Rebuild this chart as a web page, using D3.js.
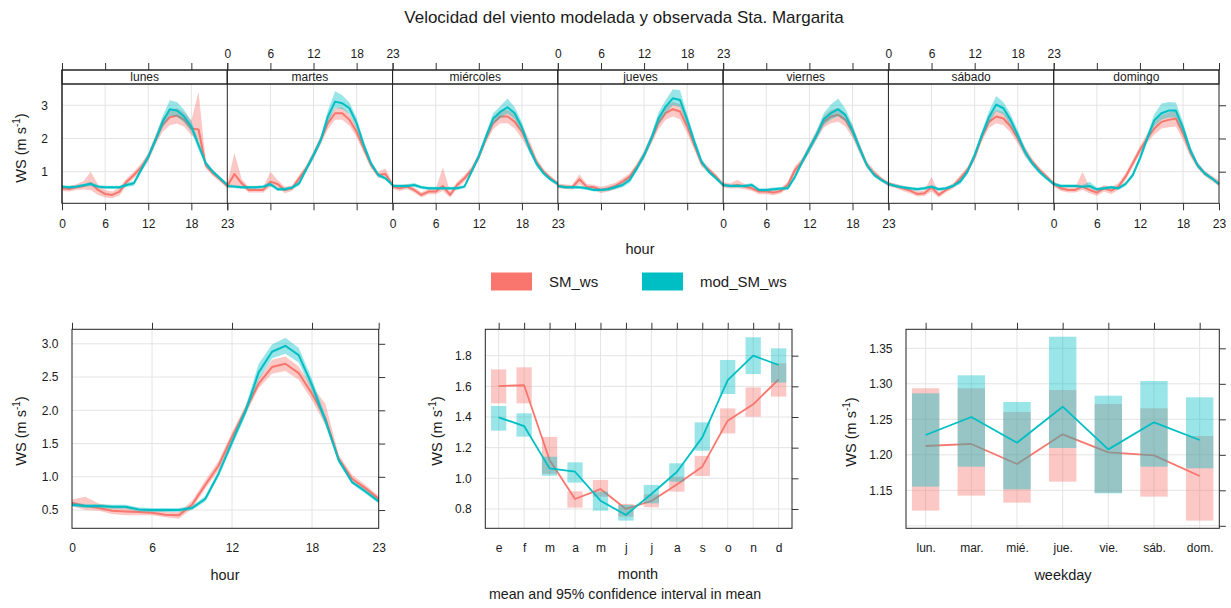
<!DOCTYPE html>
<html>
<head>
<meta charset="utf-8">
<script src="https://cdn.jsdelivr.net/npm/d3@7"></script>
<style>
  body { margin: 0; background: #fff; }
  svg text { font-family: "Liberation Sans", Arial, Helvetica, sans-serif; fill: #1a1a1a; }
</style>
</head>
<body>
<svg id="chart" width="1231" height="608"></svg>
<script>
// ---------- categories ----------
const hours = [0,1,2,3,4,5,6,7,8,9,10,11,12,13,14,15,16,17,18,19,20,21,22,23];
const hourTicks = [0, 6, 12, 18, 23];
const dayNames = ["lunes", "martes", "miércoles", "jueves", "viernes", "sábado", "domingo"];
const monthLabels = ["e", "f", "m", "a", "m", "j", "j", "a", "s", "o", "n", "d"];
const weekdayLabels = ["lun.", "mar.", "mié.", "jue.", "vie.", "sáb.", "dom."];
const seriesNames = ["SM_ws", "mod_SM_ws"];
const seriesColours = ["#F8766D", "#00BFC4"];

// ---------- hour x weekday (rows = lunes .. domingo) ----------
const obsDayHour = [
  [0.50,0.48,0.53,0.57,0.65,0.45,0.33,0.30,0.40,0.70,0.90,1.13,1.43,1.95,2.41,2.64,2.69,2.56,2.30,2.27,1.20,0.95,0.77,0.57],
  [0.57,0.93,0.65,0.45,0.45,0.45,0.70,0.63,0.45,0.50,0.80,1.10,1.50,1.95,2.46,2.76,2.76,2.56,2.20,1.70,1.20,0.90,0.93,0.60],
  [0.55,0.50,0.55,0.45,0.30,0.40,0.40,0.57,0.30,0.60,0.80,1.05,1.45,2.00,2.46,2.66,2.66,2.50,2.20,1.78,1.30,1.00,0.80,0.63],
  [0.57,0.55,0.53,0.77,0.55,0.53,0.45,0.50,0.57,0.70,0.85,1.15,1.50,1.97,2.46,2.76,2.88,2.81,2.36,1.80,1.25,1.05,0.85,0.60],
  [0.60,0.57,0.60,0.55,0.50,0.40,0.40,0.37,0.42,0.60,1.05,1.30,1.70,2.10,2.50,2.66,2.71,2.56,2.20,1.70,1.20,0.95,0.77,0.63],
  [0.63,0.57,0.50,0.43,0.33,0.35,0.53,0.30,0.45,0.57,0.80,1.05,1.45,2.05,2.50,2.66,2.60,2.36,2.00,1.60,1.30,1.05,0.85,0.63],
  [0.63,0.50,0.45,0.45,0.55,0.45,0.37,0.50,0.43,0.55,0.85,1.25,1.65,2.00,2.30,2.50,2.56,2.60,2.15,1.60,1.20,0.95,0.80,0.63]
];
const obsDayHourLo = [
  [0.42,0.40,0.45,0.46,0.45,0.30,0.22,0.20,0.28,0.60,0.80,1.02,1.30,1.80,2.20,2.40,2.45,2.35,2.10,1.95,1.10,0.87,0.70,0.50],
  [0.50,0.55,0.55,0.37,0.37,0.37,0.55,0.52,0.35,0.42,0.70,1.00,1.38,1.82,2.28,2.56,2.56,2.38,2.04,1.56,1.10,0.82,0.82,0.53],
  [0.48,0.42,0.47,0.37,0.22,0.32,0.32,0.42,0.22,0.50,0.70,0.95,1.33,1.86,2.28,2.46,2.46,2.30,2.00,1.60,1.20,0.92,0.72,0.56],
  [0.50,0.48,0.46,0.62,0.47,0.45,0.35,0.40,0.47,0.60,0.75,1.04,1.38,1.83,2.28,2.56,2.66,2.58,2.15,1.65,1.15,0.96,0.77,0.53],
  [0.52,0.49,0.50,0.47,0.42,0.32,0.32,0.29,0.34,0.50,0.93,1.19,1.58,1.96,2.32,2.46,2.50,2.36,2.02,1.55,1.10,0.87,0.70,0.56],
  [0.56,0.50,0.42,0.35,0.25,0.27,0.40,0.22,0.37,0.49,0.70,0.95,1.33,1.91,2.32,2.46,2.40,2.18,1.84,1.46,1.20,0.97,0.78,0.56],
  [0.55,0.42,0.37,0.37,0.45,0.35,0.27,0.40,0.33,0.45,0.75,1.14,1.53,1.86,2.12,2.30,2.34,2.36,1.95,1.45,1.10,0.87,0.72,0.56]
];
const obsDayHourHi = [
  [0.58,0.56,0.62,0.72,1.00,0.62,0.45,0.40,0.52,0.80,1.00,1.25,1.56,2.10,2.62,2.85,2.92,2.78,2.55,3.40,1.32,1.04,0.85,0.65],
  [0.64,1.57,0.78,0.53,0.53,0.53,1.00,0.75,0.55,0.58,0.90,1.20,1.62,2.08,2.62,2.92,2.94,2.74,2.36,1.84,1.30,0.98,1.10,0.67],
  [0.62,0.58,0.63,0.53,0.38,0.48,0.48,1.13,0.40,0.70,0.90,1.15,1.57,2.14,2.64,2.86,2.86,2.72,2.40,1.98,1.42,1.08,0.88,0.70],
  [0.64,0.62,0.60,0.92,0.63,0.61,0.55,0.60,0.67,0.80,0.95,1.26,1.62,2.11,2.64,2.96,3.10,3.04,2.57,1.95,1.35,1.14,0.93,0.67],
  [0.68,0.65,0.75,0.63,0.58,0.48,0.48,0.45,0.50,0.70,1.17,1.41,1.82,2.24,2.68,2.86,2.92,2.76,2.38,1.85,1.32,1.05,0.85,0.70],
  [0.70,0.64,0.58,0.51,0.41,0.43,0.85,0.38,0.53,0.65,0.90,1.15,1.57,2.19,2.68,2.86,2.80,2.54,2.16,1.74,1.40,1.13,0.92,0.70],
  [0.70,0.58,0.53,0.53,1.00,0.55,0.47,0.60,0.55,0.65,0.95,1.36,1.77,2.14,2.48,2.70,2.78,2.84,2.35,1.75,1.30,1.03,0.88,0.75]
];
const modDayHour = [
  [0.55,0.53,0.55,0.59,0.63,0.55,0.53,0.53,0.53,0.60,0.65,1.05,1.45,1.95,2.50,2.88,2.84,2.66,2.36,1.80,1.25,1.00,0.80,0.60],
  [0.57,0.55,0.53,0.53,0.53,0.55,0.62,0.47,0.47,0.52,0.65,1.08,1.50,1.95,2.66,3.11,3.06,2.91,2.46,1.80,1.25,0.90,0.80,0.60],
  [0.57,0.57,0.57,0.60,0.53,0.50,0.50,0.50,0.50,0.50,0.55,1.00,1.47,2.05,2.60,2.80,2.94,2.76,2.33,1.72,1.25,0.95,0.76,0.63],
  [0.57,0.53,0.53,0.53,0.50,0.45,0.45,0.47,0.53,0.60,0.75,1.10,1.50,2.00,2.60,2.96,3.21,3.16,2.56,1.90,1.30,1.00,0.80,0.60],
  [0.60,0.57,0.57,0.57,0.60,0.45,0.45,0.47,0.49,0.50,0.85,1.30,1.70,2.10,2.58,2.76,2.88,2.71,2.25,1.70,1.20,0.90,0.75,0.63],
  [0.63,0.57,0.53,0.50,0.47,0.50,0.55,0.47,0.50,0.57,0.70,1.00,1.50,2.10,2.65,3.02,2.91,2.56,2.10,1.60,1.25,1.00,0.80,0.63],
  [0.63,0.57,0.57,0.57,0.55,0.57,0.47,0.50,0.53,0.50,0.63,0.90,1.40,2.00,2.55,2.76,2.84,2.84,2.31,1.65,1.20,0.95,0.80,0.63]
];
const modDayHourLo = [
  [0.50,0.48,0.50,0.54,0.57,0.50,0.48,0.48,0.48,0.54,0.58,0.96,1.35,1.83,2.33,2.68,2.66,2.48,2.20,1.66,1.17,0.94,0.75,0.55],
  [0.52,0.50,0.48,0.48,0.48,0.50,0.56,0.42,0.42,0.47,0.58,1.00,1.40,1.84,2.48,2.92,2.88,2.74,2.30,1.68,1.17,0.84,0.75,0.55],
  [0.52,0.52,0.52,0.55,0.48,0.45,0.45,0.45,0.45,0.45,0.50,0.92,1.37,1.93,2.43,2.62,2.75,2.58,2.17,1.60,1.17,0.89,0.71,0.58],
  [0.52,0.48,0.48,0.48,0.45,0.40,0.40,0.42,0.47,0.53,0.67,1.01,1.39,1.87,2.42,2.76,3.00,2.95,2.38,1.76,1.21,0.94,0.75,0.55],
  [0.55,0.52,0.52,0.52,0.55,0.40,0.40,0.42,0.44,0.45,0.77,1.21,1.59,1.97,2.40,2.57,2.68,2.52,2.09,1.58,1.12,0.84,0.70,0.58],
  [0.58,0.52,0.48,0.45,0.42,0.45,0.50,0.42,0.45,0.52,0.63,0.92,1.40,1.98,2.47,2.82,2.72,2.39,1.95,1.48,1.17,0.94,0.75,0.58],
  [0.58,0.52,0.52,0.52,0.50,0.50,0.42,0.45,0.48,0.45,0.57,0.83,1.30,1.88,2.37,2.56,2.63,2.63,2.14,1.53,1.12,0.89,0.75,0.58]
];
const modDayHourHi = [
  [0.60,0.58,0.60,0.64,0.69,0.60,0.58,0.58,0.58,0.66,0.72,1.14,1.55,2.07,2.67,3.15,3.10,2.86,2.52,1.94,1.33,1.06,0.85,0.65],
  [0.62,0.60,0.58,0.58,0.58,0.60,0.68,0.52,0.52,0.57,0.72,1.16,1.60,2.06,2.84,3.42,3.30,3.08,2.62,1.92,1.33,0.96,0.85,0.65],
  [0.62,0.62,0.62,0.66,0.58,0.55,0.55,0.55,0.55,0.55,0.60,1.08,1.57,2.17,2.76,2.98,3.20,2.94,2.49,1.84,1.33,1.01,0.81,0.68],
  [0.62,0.58,0.58,0.58,0.55,0.50,0.50,0.52,0.59,0.67,0.83,1.19,1.61,2.13,2.78,3.16,3.48,3.45,2.74,2.04,1.39,1.06,0.85,0.65],
  [0.65,0.62,0.62,0.62,0.66,0.50,0.50,0.52,0.54,0.56,0.93,1.39,1.81,2.23,2.76,3.02,3.20,2.90,2.41,1.82,1.28,0.96,0.80,0.68],
  [0.68,0.62,0.58,0.55,0.52,0.55,0.60,0.52,0.55,0.62,0.77,1.08,1.60,2.22,2.83,3.28,3.10,2.73,2.25,1.72,1.33,1.06,0.85,0.68],
  [0.68,0.62,0.62,0.62,0.60,0.70,0.52,0.55,0.58,0.55,0.69,0.97,1.50,2.12,2.73,3.05,3.10,3.08,2.48,1.77,1.28,1.01,0.85,0.68]
];

// ---------- hour of day ----------
const obsHour   = [0.61,0.56,0.53,0.49,0.48,0.47,0.46,0.43,0.42,0.58,0.88,1.17,1.60,2.00,2.40,2.65,2.70,2.56,2.25,1.88,1.27,0.97,0.83,0.67];
const obsHourLo = [0.56,0.50,0.49,0.44,0.42,0.42,0.42,0.39,0.37,0.52,0.82,1.10,1.53,1.93,2.33,2.55,2.59,2.46,2.15,1.78,1.21,0.92,0.78,0.63];
const obsHourHi = [0.66,0.70,0.60,0.56,0.54,0.52,0.50,0.48,0.47,0.64,0.95,1.24,1.67,2.07,2.48,2.76,2.81,2.66,2.36,2.10,1.33,1.03,0.88,0.71];
const modHour   = [0.58,0.56,0.56,0.55,0.55,0.51,0.50,0.50,0.50,0.53,0.67,1.05,1.52,1.98,2.57,2.88,2.97,2.83,2.38,1.85,1.25,0.92,0.78,0.63];
const modHourLo = [0.55,0.53,0.53,0.52,0.52,0.48,0.47,0.47,0.47,0.50,0.63,1.00,1.46,1.91,2.46,2.78,2.85,2.72,2.29,1.78,1.21,0.89,0.75,0.60];
const modHourHi = [0.61,0.59,0.59,0.58,0.58,0.54,0.53,0.53,0.53,0.56,0.71,1.10,1.58,2.05,2.70,2.99,3.09,2.94,2.47,1.92,1.29,0.95,0.81,0.66];

// ---------- month ----------
const obsMonth   = [1.602,1.607,1.120,0.865,0.930,0.800,0.852,0.960,1.076,1.376,1.483,1.646];
const obsMonthLo = [1.489,1.489,1.030,0.809,0.880,0.750,0.811,0.913,1.015,1.293,1.402,1.533];
const obsMonthHi = [1.711,1.724,1.270,0.915,0.989,0.833,0.896,1.010,1.146,1.456,1.593,1.750];
const modMonth   = [1.398,1.341,1.065,1.043,0.854,0.761,0.898,1.041,1.267,1.641,1.800,1.739];
const modMonthLo = [1.311,1.272,1.017,0.972,0.789,0.724,0.837,0.978,1.180,1.550,1.680,1.624];
const modMonthHi = [1.472,1.424,1.141,1.104,0.913,0.826,0.957,1.098,1.365,1.772,1.920,1.848];

// ---------- weekday ----------
const obsWeekday   = [1.2124,1.2153,1.1871,1.2289,1.2035,1.1993,1.1702];
const obsWeekdayLo = [1.1214,1.1425,1.1326,1.1622,1.1467,1.1411,1.1073];
const obsWeekdayHi = [1.2937,1.2937,1.2603,1.2913,1.2716,1.2655,1.2265];
const modWeekday   = [1.2279,1.2533,1.2171,1.2678,1.2077,1.2458,1.2209];
const modWeekdayLo = [1.1552,1.1833,1.1514,1.2096,1.1458,1.1833,1.1810];
const modWeekdayHi = [1.2866,1.3120,1.2744,1.3664,1.2833,1.3040,1.2810];

// ---------- tick values ----------
const topYTicks = [1, 2, 3];
const hourYTicks = [0.5, 1.0, 1.5, 2.0, 2.5, 3.0];
const monthYTicks = [0.8, 1.0, 1.2, 1.4, 1.6, 1.8];
const weekdayYTicks = [1.10, 1.15, 1.20, 1.25, 1.30, 1.35];
const weekdayYLabelled = [1.15, 1.20, 1.25, 1.30, 1.35];

// ---------- drawing ----------
const svg = d3.select("#chart");
const FONT = "'Liberation Sans', Arial, Helvetica, sans-serif";
const INK = "#1a1a1a";
const GRID = "#e4e4e4";
const BAND_OPACITY = 0.4;

function tidyAxis(g, size) {
  g.attr("font-family", FONT).attr("font-size", size);
  g.select(".domain").remove();
  g.selectAll(".tick line").attr("stroke", "#333");
  g.selectAll(".tick text").attr("fill", INK);
}

function yLabel(x, y) {
  const t = svg.append("text")
    .attr("transform", `translate(${x},${y}) rotate(-90)`)
    .attr("text-anchor", "middle")
    .attr("font-size", 14.5);
  t.append("tspan").text("WS (m s");
  t.append("tspan").attr("dy", -6).attr("font-size", 10).text("-1");
  t.append("tspan").attr("dy", 6).text(")");
}

// Title
svg.append("text").attr("x", 624).attr("y", 23).attr("text-anchor", "middle")
  .attr("font-size", 17).text("Velocidad del viento modelada y observada Sta. Margarita");

// ===== Top: hour within each weekday =====
const topBox = { left: 62, right: 1219, strip: 70, top: 84, bottom: 203.3 };
const panelW = (topBox.right - topBox.left) / 7;
const yTop = d3.scaleLinear().domain([0.048, 3.64]).range([topBox.bottom, topBox.top]);
const gTop = svg.append("g");

// horizontal grid
gTop.selectAll("line.hgrid").data(topYTicks).join("line")
  .attr("x1", topBox.left).attr("x2", topBox.right)
  .attr("y1", d => yTop(d)).attr("y2", d => yTop(d))
  .attr("stroke", GRID);

dayNames.forEach((day, d) => {
  const x0 = topBox.left + d * panelW;
  const xs = d3.scaleLinear().domain([0, 23]).range([x0, x0 + panelW]);
  const g = gTop.append("g");

  g.selectAll("line.vgrid").data([6, 12, 18]).join("line")
    .attr("x1", v => xs(v)).attr("x2", v => xs(v))
    .attr("y1", topBox.top).attr("y2", topBox.bottom)
    .attr("stroke", GRID);

  const groups = [
    { m: obsDayHour[d], lo: obsDayHourLo[d], hi: obsDayHourHi[d], c: seriesColours[0] },
    { m: modDayHour[d], lo: modDayHourLo[d], hi: modDayHourHi[d], c: seriesColours[1] }
  ];
  groups.forEach(s => {
    const area = d3.area().x(h => xs(h)).y0(h => yTop(s.lo[h])).y1(h => yTop(s.hi[h]));
    const line = d3.line().x(h => xs(h)).y(h => yTop(s.m[h]));
    g.append("path").datum(hours).attr("d", area).attr("fill", s.c).attr("fill-opacity", BAND_OPACITY);
    g.append("path").datum(hours).attr("d", line).attr("fill", "none")
      .attr("stroke", s.c).attr("stroke-width", 2).attr("stroke-linejoin", "round");
  });

  // strip
  g.append("rect").attr("x", x0).attr("y", topBox.strip).attr("width", panelW).attr("height", topBox.top - topBox.strip)
    .attr("fill", "#fff").attr("stroke", "#222");
  g.append("text").attr("x", x0 + panelW / 2).attr("y", topBox.top - 3).attr("text-anchor", "middle")
    .attr("font-size", 12).text(day);

  // panel separator
  g.append("line").attr("x1", x0).attr("x2", x0).attr("y1", topBox.strip).attr("y2", topBox.bottom)
    .attr("stroke", "#222");

  // axes: labels alternate between bottom and top
  const showBottom = d % 2 === 0;
  g.append("g").attr("transform", `translate(0,${topBox.bottom})`)
    .call(d3.axisBottom(xs).tickValues(hourTicks).tickSize(7).tickPadding(9)
      .tickFormat(showBottom ? d3.format("d") : () => ""))
    .call(a => tidyAxis(a, 12));
  g.append("g").attr("transform", `translate(0,${topBox.strip})`)
    .call(d3.axisTop(xs).tickValues(hourTicks).tickSize(7).tickPadding(5)
      .tickFormat(!showBottom ? d3.format("d") : () => ""))
    .call(a => tidyAxis(a, 12));
});

// outer box
gTop.append("rect").attr("x", topBox.left).attr("y", topBox.strip).attr("width", topBox.right - topBox.left)
  .attr("height", topBox.bottom - topBox.strip).attr("fill", "none").attr("stroke", "#222");
gTop.append("line").attr("x1", topBox.left).attr("x2", topBox.right).attr("y1", topBox.top).attr("y2", topBox.top)
  .attr("stroke", "#222");
gTop.append("g").attr("transform", `translate(${topBox.left},0)`)
  .call(d3.axisLeft(yTop).tickValues(topYTicks).tickSize(0).tickPadding(14).tickFormat(d3.format("d")))
  .call(a => tidyAxis(a, 12));
gTop.append("g").attr("transform", `translate(${topBox.right},0)`)
  .call(d3.axisRight(yTop).tickValues(topYTicks).tickSize(7).tickFormat(() => ""))
  .call(a => tidyAxis(a, 12));
yLabel(26, 148);
svg.append("text").attr("x", 640).attr("y", 254).attr("text-anchor", "middle").attr("font-size", 14.5).text("hour");

// legend
const legend = [
  { name: seriesNames[0], c: seriesColours[0], x: 491, tx: 549 },
  { name: seriesNames[1], c: seriesColours[1], x: 642, tx: 700 }
];
legend.forEach(l => {
  svg.append("rect").attr("x", l.x).attr("y", 272.5).attr("width", 41).attr("height", 18)
    .attr("fill", l.c);
  svg.append("text").attr("x", l.tx).attr("y", 287).attr("font-size", 15).text(l.name);
});

// ===== Bottom panels helpers =====
function panelFrame(box, xs, ys, xGrid, yGrid) {
  const g = svg.append("g");
  g.selectAll("line.hg").data(yGrid).join("line")
    .attr("x1", box.left).attr("x2", box.right)
    .attr("y1", d => ys(d)).attr("y2", d => ys(d)).attr("stroke", GRID);
  g.selectAll("line.vg").data(xGrid).join("line")
    .attr("x1", d => xs(d)).attr("x2", d => xs(d))
    .attr("y1", box.top).attr("y2", box.bottom).attr("stroke", GRID);
  return g;
}
function panelAxes(box, xs, ys, xTicks, xFormat, yTicks, yLabelTicks, yFormat) {
  const g = svg.append("g");
  g.append("rect").attr("x", box.left).attr("y", box.top).attr("width", box.right - box.left)
    .attr("height", box.bottom - box.top).attr("fill", "none").attr("stroke", "#222");
  g.append("g").attr("transform", `translate(0,${box.bottom})`)
    .call(d3.axisBottom(xs).tickValues(xTicks).tickSize(0).tickPadding(15).tickFormat(xFormat))
    .call(a => tidyAxis(a, 12));
  g.append("g").attr("transform", `translate(0,${box.top})`)
    .call(d3.axisTop(xs).tickValues(xTicks).tickSize(6.5).tickFormat(() => ""))
    .call(a => tidyAxis(a, 12));
  g.append("g").attr("transform", `translate(${box.left},0)`)
    .call(d3.axisLeft(ys).tickValues(yLabelTicks).tickSize(0).tickPadding(13.5).tickFormat(yFormat))
    .call(a => tidyAxis(a, 12));
  g.append("g").attr("transform", `translate(${box.right},0)`)
    .call(d3.axisRight(ys).tickValues(yTicks).tickSize(6.5).tickFormat(() => ""))
    .call(a => tidyAxis(a, 12));
}

// ===== Bottom-left: hour =====
{
  const box = { left: 72, right: 378.7, top: 329.3, bottom: 528.3 };
  const xs = d3.scaleLinear().domain([0, 23]).range([box.left, box.right]);
  const ys = d3.scaleLinear().domain([0.2256, 3.218]).range([box.bottom, box.top]);
  const g = panelFrame(box, xs, ys, [6, 12, 18], hourYTicks);
  const groups = [
    { m: obsHour, lo: obsHourLo, hi: obsHourHi, c: seriesColours[0] },
    { m: modHour, lo: modHourLo, hi: modHourHi, c: seriesColours[1] }
  ];
  groups.forEach(s => {
    g.append("path").datum(hours)
      .attr("d", d3.area().x(h => xs(h)).y0(h => ys(s.lo[h])).y1(h => ys(s.hi[h])))
      .attr("fill", s.c).attr("fill-opacity", BAND_OPACITY);
    g.append("path").datum(hours)
      .attr("d", d3.line().x(h => xs(h)).y(h => ys(s.m[h])))
      .attr("fill", "none").attr("stroke", s.c).attr("stroke-width", 2).attr("stroke-linejoin", "round");
  });
  panelAxes(box, xs, ys, hourTicks, d3.format("d"), hourYTicks, hourYTicks, d3.format(".1f"));
  yLabel(25.5, 431);
  svg.append("text").attr("x", 225).attr("y", 580).attr("text-anchor", "middle").attr("font-size", 14.5).text("hour");
}

// ===== Bottom-middle: month =====
{
  const box = { left: 485.3, right: 792, top: 329.3, bottom: 528.3 };
  const monthIdx = [1,2,3,4,5,6,7,8,9,10,11,12];
  const xs = d3.scaleLinear().domain([0.475, 12.525]).range([box.left, box.right]);
  const ys = d3.scaleLinear().domain([0.674, 1.972]).range([box.bottom, box.top]);
  const g = panelFrame(box, xs, ys, monthIdx, monthYTicks);
  const groups = [
    { m: obsMonth, lo: obsMonthLo, hi: obsMonthHi, c: seriesColours[0] },
    { m: modMonth, lo: modMonthLo, hi: modMonthHi, c: seriesColours[1] }
  ];
  groups.forEach(s => {
    g.selectAll(null).data(monthIdx).join("rect")
      .attr("x", i => xs(i - 0.3)).attr("width", i => xs(i + 0.3) - xs(i - 0.3))
      .attr("y", i => ys(s.hi[i - 1])).attr("height", i => ys(s.lo[i - 1]) - ys(s.hi[i - 1]))
      .attr("fill", s.c).attr("fill-opacity", BAND_OPACITY);
    g.append("path").datum(monthIdx)
      .attr("d", d3.line().x(i => xs(i)).y(i => ys(s.m[i - 1])))
      .attr("fill", "none").attr("stroke", s.c).attr("stroke-width", 1.8).attr("stroke-linejoin", "round");
  });
  panelAxes(box, xs, ys, monthIdx, i => monthLabels[i - 1], monthYTicks, monthYTicks, d3.format(".1f"));
  yLabel(441.5, 431);
  svg.append("text").attr("x", 638).attr("y", 579).attr("text-anchor", "middle").attr("font-size", 14.5).text("month");
  svg.append("text").attr("x", 625).attr("y", 599).attr("text-anchor", "middle").attr("font-size", 14.2)
    .text("mean and 95% confidence interval in mean");
}

// ===== Bottom-right: weekday =====
{
  const box = { left: 906, right: 1219.3, top: 329.3, bottom: 528.3 };
  const dayIdx = [1,2,3,4,5,6,7];
  const xs = d3.scaleLinear().domain([0.57, 7.43]).range([box.left, box.right]);
  const ys = d3.scaleLinear().domain([1.0965, 1.3768]).range([box.bottom, box.top]);
  const g = panelFrame(box, xs, ys, dayIdx, weekdayYTicks);
  const groups = [
    { m: obsWeekday, lo: obsWeekdayLo, hi: obsWeekdayHi, c: seriesColours[0] },
    { m: modWeekday, lo: modWeekdayLo, hi: modWeekdayHi, c: seriesColours[1] }
  ];
  groups.forEach(s => {
    g.selectAll(null).data(dayIdx).join("rect")
      .attr("x", i => xs(i - 0.3)).attr("width", i => xs(i + 0.3) - xs(i - 0.3))
      .attr("y", i => ys(s.hi[i - 1])).attr("height", i => ys(s.lo[i - 1]) - ys(s.hi[i - 1]))
      .attr("fill", s.c).attr("fill-opacity", BAND_OPACITY);
    g.append("path").datum(dayIdx)
      .attr("d", d3.line().x(i => xs(i)).y(i => ys(s.m[i - 1])))
      .attr("fill", "none").attr("stroke", s.c).attr("stroke-width", 1.8).attr("stroke-linejoin", "round");
  });
  panelAxes(box, xs, ys, dayIdx, i => weekdayLabels[i - 1], weekdayYTicks, weekdayYLabelled, d3.format(".2f"));
  yLabel(856, 432);
  svg.append("text").attr("x", 1063).attr("y", 580).attr("text-anchor", "middle").attr("font-size", 14.5).text("weekday");
}
</script>
</body>
</html>
